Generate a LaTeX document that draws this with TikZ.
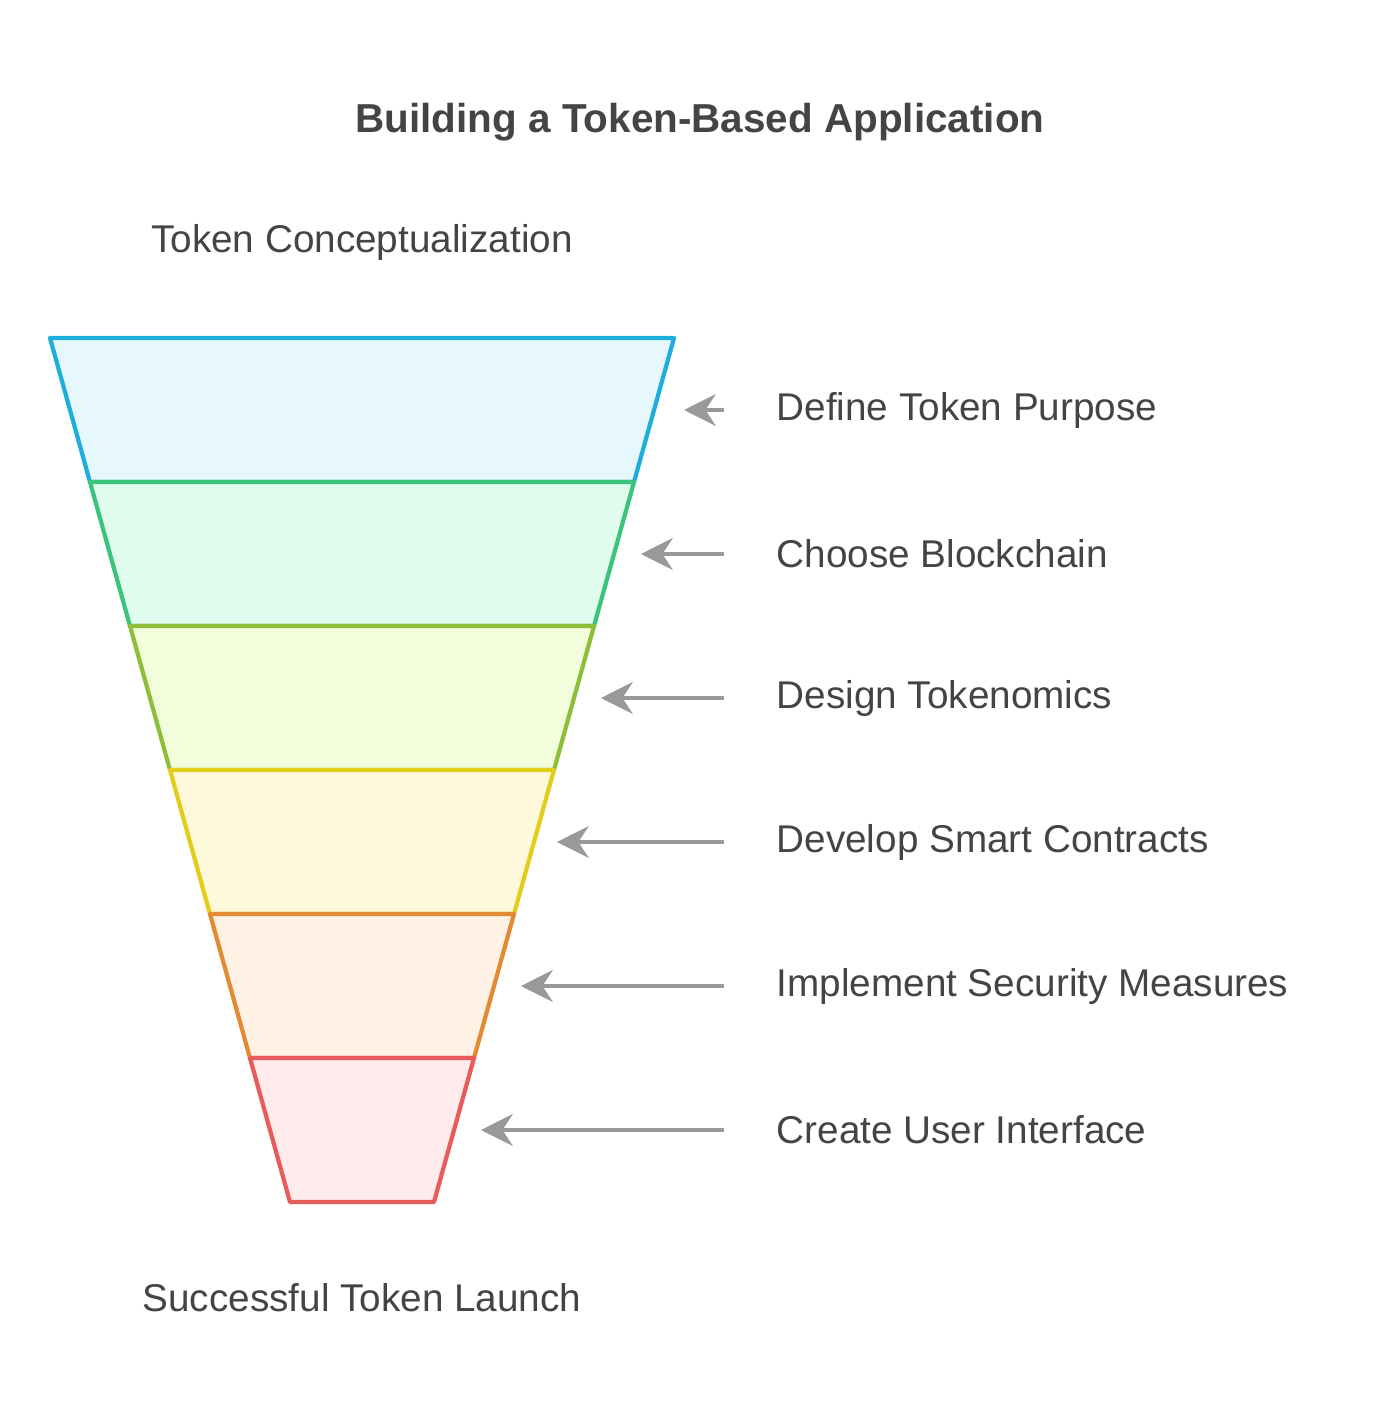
\documentclass[tikz,border=0pt]{standalone}
\usepackage{fontspec}
\setmainfont{Liberation Sans}
\usepackage{tikz}
\usetikzlibrary{arrows.meta}
\definecolor{txt}{HTML}{444444}
\definecolor{arr}{HTML}{999999}
\tikzset{
  band/.style={line width=1.2pt,line join=round},
  lbl/.style={anchor=west,text=txt,font=\fontsize{11}{13}\selectfont,inner sep=0pt},
  pointer/.style={arr,line width=1.3pt,-{Stealth[length=9pt,width=9pt]}}
}
\begin{document}
\begin{tikzpicture}[x=0.01cm,y=-0.01cm]
\useasboundingbox (0,0) rectangle (1374,1421);
\node[text=txt,font=\bfseries\fontsize{11.5}{14}\selectfont] (title) at (700,122) {Building a Token-Based Application};
\node[text=txt,font=\fontsize{11}{13}\selectfont] (top) at (362,242) {Token Conceptualization};
\node[text=txt,font=\fontsize{11}{13}\selectfont] (bottom) at (362,1298) {Successful Token Launch};
% funnel bands
\foreach \i/\s/\f [count=\k from 0] in {
  1/1EAEDB/E6F7FD,2/3CC47C/E0FCEE,3/8DBF3A/F2FDDC,4/E3CC1A/FFF9DC,5/E38A35/FFF1E3,6/E85B5B/FFEBEB}{
  \definecolor{bs}{HTML}{\s}\definecolor{bf}{HTML}{\f}
  \draw[band,draw=bs,fill=bf] ({50+40*\k},{338+144*\k}) -- ({674-40*\k},{338+144*\k})
    -- ({634-40*\k},{482+144*\k}) -- ({90+40*\k},{482+144*\k}) -- cycle;
}
% labels and pointers
\foreach \t/\y/\tip [count=\k] in {
  Define Token Purpose/410/684, Choose Blockchain/554/641, Design Tokenomics/698/601,
  Develop Smart Contracts/842/557, Implement Security Measures/986/521, Create User Interface/1130/481}{
  \node[lbl] (step\k) at (776,\y) {\t};
  \coordinate (tip\k) at (\tip,\y);
  \coordinate (tail\k) at (724,\y);
  \draw[pointer] (tail\k) -- (tip\k);
}
\end{tikzpicture}
\end{document}
